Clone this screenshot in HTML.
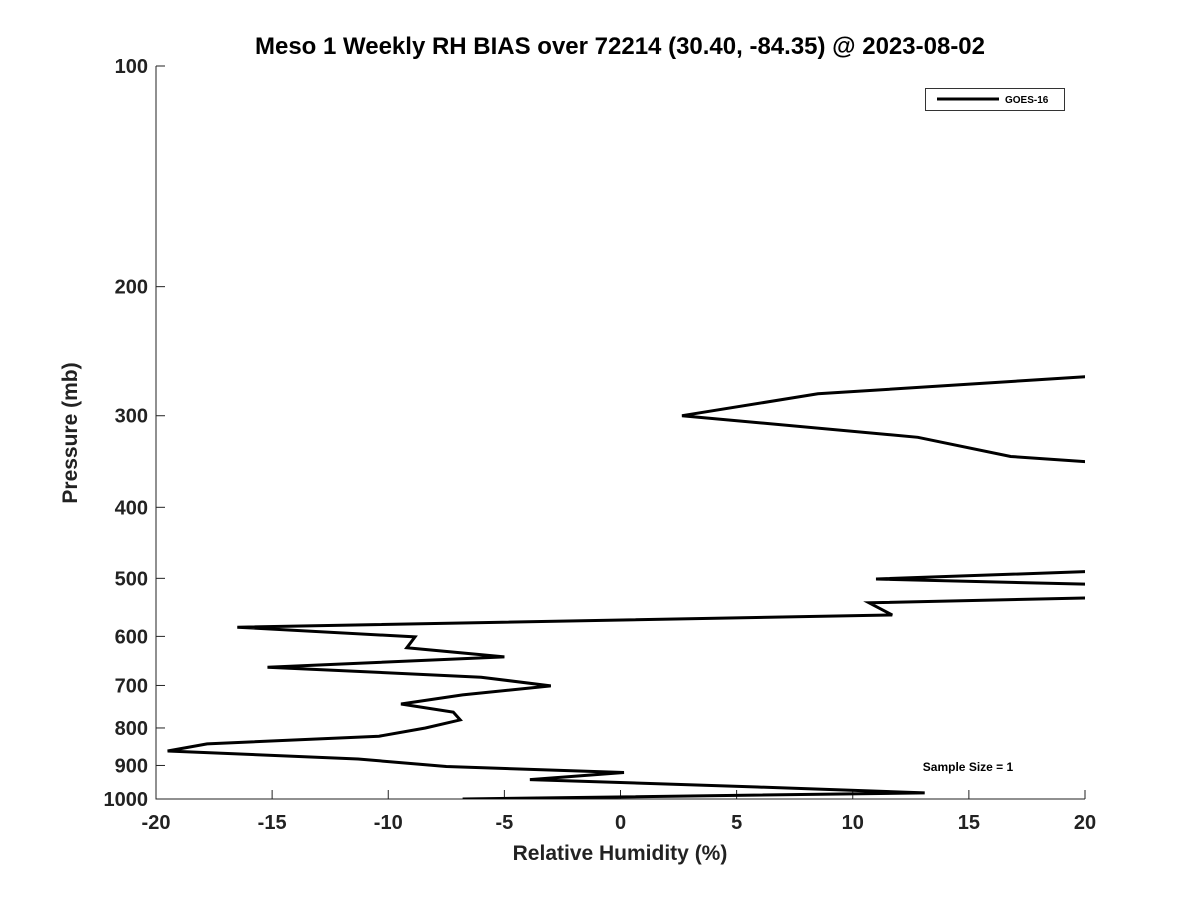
<!DOCTYPE html>
<html><head><meta charset="utf-8"><style>
body{margin:0;background:#fff;}
svg text{font-family:"Liberation Sans","DejaVu Sans",sans-serif;font-weight:bold;fill:#222;}
</style></head><body>
<svg width="1200" height="900" xmlns="http://www.w3.org/2000/svg">
<rect width="1200" height="900" fill="#fff"/>
<defs><clipPath id="plotclip"><rect x="156" y="66" width="929" height="733"/></clipPath></defs>
<text x="620" y="54" text-anchor="middle" font-size="24" style="fill:#000">Meso 1 Weekly RH BIAS over 72214 (30.40, -84.35) @ 2023-08-02</text>
<g id="axes"></g>
<g id="plot" clip-path="url(#plotclip)"></g>
<text x="620" y="860" text-anchor="middle" font-size="21">Relative Humidity (%)</text>
<text transform="translate(77,433) rotate(-90)" text-anchor="middle" font-size="21">Pressure (mb)</text>
<g>
<rect x="925.5" y="88.5" width="139" height="22" fill="#fff" stroke="#333" stroke-width="1"/>
<line x1="937" y1="99" x2="999" y2="99" stroke="#000" stroke-width="3"/>
<text x="1005" y="103" font-size="10" style="fill:#000">GOES-16</text>
</g>
<text x="968" y="771" text-anchor="middle" font-size="12" style="fill:#000">Sample Size = 1</text>
</svg>
<script>
const pressures=[263,280,300,321,341,350,null,487,501,511,530,540,561,583,601,622,640,661,682,701,721,742,761,780,800,821,841,860,882,903,920,941,963,981,1000];
const biasValues=[22,8.5,2.65,12.8,16.8,22,null,22,11.0,22,22,10.7,11.7,-16.5,-8.85,-9.2,-5.0,-15.2,-6.0,-3.0,-6.8,-9.45,-7.2,-6.9,-8.4,-10.4,-17.8,-19.5,-11.3,-7.5,0.15,-3.9,5.9,13.1,-6.8];
const xTicks=[-20,-15,-10,-5,0,5,10,15,20];
const yTicks=[100,200,300,400,500,600,700,800,900,1000];
const X0=156,X1=1085,Y0=66,Y1=799;
const xs=v=>X0+(v+20)/40*(X1-X0);
const ys=p=>Y0+(Math.log10(p)-2)*(Y1-Y0);
const NS="http://www.w3.org/2000/svg";
const axes=document.getElementById('axes'),plot=document.getElementById('plot');
function mk(t,a,parent){const e=document.createElementNS(NS,t);for(const k in a)e.setAttribute(k,a[k]);parent.appendChild(e);return e;}
const ax=mk('path',{d:`M${X0},${Y0}V${Y1}H${X1}`,fill:'none',stroke:'#222','stroke-width':1},axes);


xTicks.forEach(v=>{const x=xs(v);
 const l=mk('line',{x1:x,y1:Y1,x2:x,y2:Y1-9,stroke:'#222'},axes);
 
 
 const t=mk('text',{x:x,y:Y1+30,'text-anchor':'middle','font-size':20},axes);t.textContent=v;
 
 });
yTicks.forEach(p=>{const y=ys(p);
 const l=mk('line',{x1:X0,y1:y,x2:X0+9,y2:y,stroke:'#222'},axes);
 
 
 const t=mk('text',{x:X0-8,y:y+7,'text-anchor':'end','font-size':20},axes);t.textContent=p;
 
 });
let d='',pen=false;
for(let i=0;i<pressures.length;i++){
 if(pressures[i]===null||biasValues[i]===null){pen=false;continue;}
 d+=(pen?'L':'M')+xs(biasValues[i]).toFixed(1)+','+ys(pressures[i]).toFixed(1);pen=true;}
const line=mk('path',{d:d,fill:'none',stroke:'#000','stroke-width':3,'stroke-linejoin':'miter'},plot);


</script>
</body></html>
